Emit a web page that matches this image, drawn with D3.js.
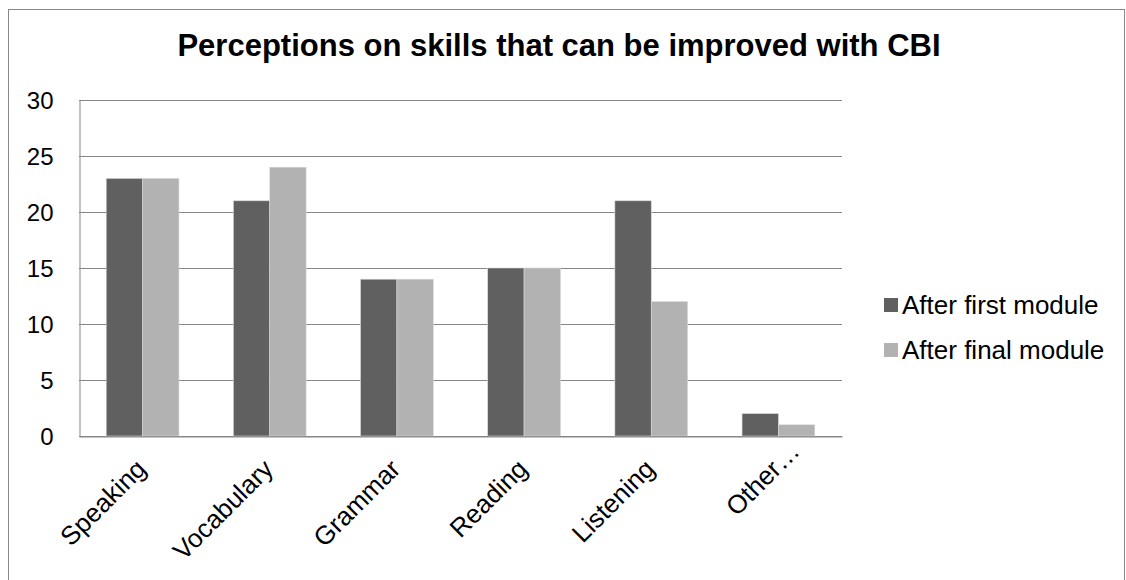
<!DOCTYPE html>
<html><head><meta charset="utf-8">
<script src="https://cdn.jsdelivr.net/npm/d3@7"></script>
<style>body{margin:0;background:#fff}svg{display:block}</style>
</head><body>
<script>
const categories = ["Speaking","Vocabulary","Grammar","Reading","Listening","Other…"];
const seriesNames = ["After first module","After final module"];
const firstModule = [23,21,14,15,21,2];
const finalModule = [23,24,14,15,12,1];
const yTicks = [0,5,10,15,20,25,30];
const colors = ["#606060","#b2b2b2"];

(function(){
const W=1126,H=580;
const FONT="Liberation Sans, Arial, sans-serif";
const svg=d3.select("body").append("svg").attr("width",W).attr("height",H);
svg.append("rect").attr("x",8.5).attr("y",9.5).attr("width",1116).attr("height",600)
  .attr("fill","#fff").attr("stroke","#888").attr("stroke-width",1);

const pL=79,pR=842,pT=100,pB=436;
const x=d3.scaleBand().domain(categories).range([pL,pR]).paddingInner(0).paddingOuter(0);
const y=d3.scaleLinear().domain([0,30]).range([pB,pT]);
const groupW=x.bandwidth()*0.572;
const xs=d3.scaleBand().domain(seriesNames).range([0,groupW]);

svg.append("g").selectAll("line").data(yTicks).join("line")
  .attr("x1",pL).attr("x2",pR)
  .attr("y1",d=>Math.round(y(d))+0.5).attr("y2",d=>Math.round(y(d))+0.5)
  .attr("stroke","#878787").attr("stroke-width",1);

const ya=svg.append("g").attr("transform",`translate(${pL+0.5},0)`)
  .call(d3.axisLeft(y).tickValues(yTicks).tickSize(0).tickPadding(26));
ya.select(".domain").attr("stroke","#878787");
ya.selectAll("text").attr("font-family",FONT).attr("font-size",24).attr("fill","#000").attr("dy","0.35em");

const data=categories.map((c,i)=>({c,vals:[firstModule[i],finalModule[i]]}));
const g=svg.append("g").selectAll("g").data(data).join("g")
  .attr("transform",d=>`translate(${x(d.c)+(x.bandwidth()-groupW)/2},0)`);
g.selectAll("rect").data(d=>d.vals.map((v,j)=>({v,s:seriesNames[j],j}))).join("rect")
  .attr("x",d=>xs(d.s)).attr("width",xs.bandwidth())
  .attr("y",d=>y(d.v)).attr("height",d=>y(0)-y(d.v))
  .attr("fill",d=>colors[d.j]).attr("stroke","#d8d8d8").attr("stroke-width",0.6);

const xa=svg.append("g").attr("transform",`translate(0,${pB+0.5})`)
  .call(d3.axisBottom(x).tickSize(0).tickPadding(0));
xa.select(".domain").attr("stroke","#878787");
xa.selectAll("text")
  .attr("font-family",FONT).attr("font-size",26).attr("fill","#000")
  .attr("text-anchor","end").attr("dy",0).attr("y",0)
  .attr("dx",(d,i)=>i===categories.length-1?25:0)
  .attr("transform","translate(5,34) rotate(-45)");

svg.append("text").attr("x",559).attr("y",56).attr("text-anchor","middle")
  .attr("font-family",FONT).attr("font-weight","bold").attr("font-size",31)
  .text("Perceptions on skills that can be improved with CBI");

const lg=svg.append("g").selectAll("g").data(seriesNames).join("g")
  .attr("transform",(d,i)=>`translate(884,${305+i*45})`);
lg.append("rect").attr("x",0).attr("y",-7).attr("width",14).attr("height",14).attr("fill",(d,i)=>colors[i]);
lg.append("text").attr("x",18).attr("y",8.5).attr("font-family",FONT)
  .attr("font-size",26).text(d=>d);
})();
</script>
</body></html>
